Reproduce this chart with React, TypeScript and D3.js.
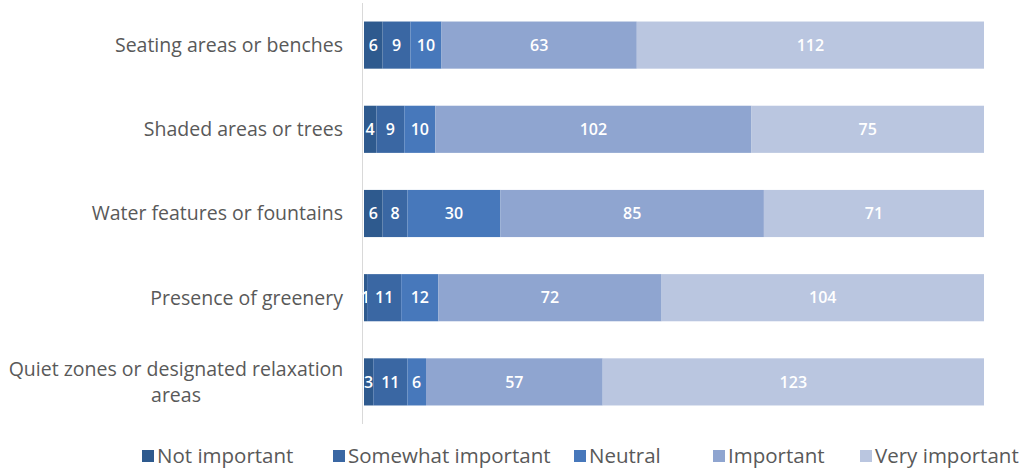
import React from "react";
import * as d3 from "d3";

const categories = [
  "Seating areas or benches",
  "Shaded areas or trees",
  "Water features or fountains",
  "Presence of greenery",
  "Quiet zones or designated relaxation areas",
];
const seriesNames = ["Not important", "Somewhat important", "Neutral", "Important", "Very important"];
const notImportant = [6, 4, 6, 1, 3];
const somewhatImportant = [9, 9, 8, 11, 11];
const neutral = [10, 10, 30, 12, 6];
const important = [63, 102, 85, 72, 57];
const veryImportant = [112, 75, 71, 104, 123];
const colors = ["#2e5a8e", "#3a67a3", "#4778bb", "#8fa5d0", "#bac6e0"];

const W = 1032, H = 469;

export default function App() {
  const values = [notImportant, somewhatImportant, neutral, important, veryImportant];
  const rows = categories.map((c, i) => {
    const r: any = { cat: c };
    seriesNames.forEach((s, j) => (r[s] = values[j][i]));
    return r;
  });
  const stack = d3.stack<any>().keys(seriesNames)(rows);
  const x = d3.scaleLinear().domain([0, 200]).range([364, 984]);
  const y = d3.scaleBand().domain(categories).range([3, 424]).paddingInner(0.44).paddingOuter(0.22);
  const font = "'Open Sans', sans-serif";
  const labelLines = (c: string) =>
    c === "Quiet zones or designated relaxation areas" ? ["Quiet zones or designated relaxation", "areas"] : [c];
  const legendX = [142, 333, 574, 713, 860];
  return (
    <svg width={W} height={H} style={{ position: "absolute", left: 0, top: 0, background: "#fff" }}>
      <line x1={362.5} x2={362.5} y1={3} y2={424} stroke="#d9d9d9" />
      {stack.map((layer, j) => (
        <g key={j}>
          {layer.map((d, i) => {
            const x0 = x(d[0]), x1 = x(d[1]);
            const v = d[1] - d[0];
            const cy = y(categories[i])! + y.bandwidth() / 2;
            return (
              <g key={i}>
                <rect x={x0} y={y(categories[i])} width={x1 - x0} height={y.bandwidth()} fill={colors[j]} />
                <text x={(x0 + x1) / 2} y={cy} dy="0.35em" textAnchor="middle" fill="#fff" fontFamily={font} fontSize={16} fontWeight={600}>
                  {v}
                </text>
              </g>
            );
          })}
        </g>
      ))}
      {categories.map((c) => {
        const lines = labelLines(c);
        const multi = lines.length > 1;
        const cy = y(c)! + y.bandwidth() / 2;
        return (
          <text key={c} textAnchor={multi ? "middle" : "end"} fill="#595959" fontFamily={font} fontSize={multi ? 19.5 : 19.5}>
            {lines.map((l, k) => (
              <tspan key={k} x={multi ? 176 : 343} y={cy + (k - (lines.length - 1) / 2) * 26} dy="0.35em">
                {l}
              </tspan>
            ))}
          </text>
        );
      })}
      {seriesNames.map((s, j) => (
        <g key={s}>
          <rect x={legendX[j]} y={450} width={12} height={12} fill={colors[j]} />
          <text x={legendX[j] + 15} y={456} dy="0.35em" fill="#595959" fontFamily={font} fontSize={20.5}>
            {s}
          </text>
        </g>
      ))}
    </svg>
  );
}
